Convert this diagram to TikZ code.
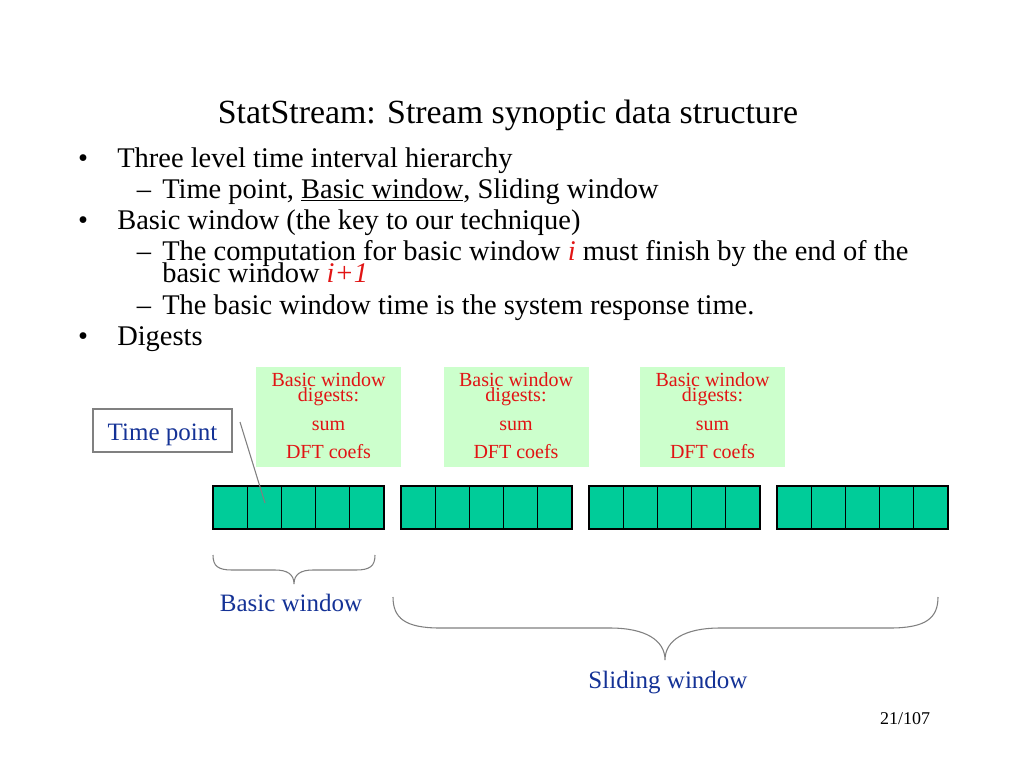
\documentclass[tikz,border=0pt]{standalone}
\usepackage{fontspec}
\setmainfont{Liberation Serif}
\definecolor{cellgreen}{RGB}{0,204,153}
\definecolor{digbg}{RGB}{204,255,204}
\definecolor{digred}{RGB}{225,20,20}
\definecolor{lblblue}{RGB}{20,50,150}
\begin{document}
\begin{tikzpicture}[x=0.75pt,y=-0.75pt,
      body/.style={font=\fontsize{21.35}{24}\selectfont,inner sep=0pt,anchor=base west},
      mark bullet/.style={font=\fontsize{21.35}{24}\selectfont,inner sep=0pt,anchor=base},
      cell/.style={draw=black,fill=cellgreen,line width=0.8pt,minimum width=25.65pt,minimum height=32.25pt,inner sep=0pt},
      digbox/.style={fill=digbg,minimum width=108.75pt,minimum height=75pt,inner sep=0pt},
      digtext/.style={font=\fontsize{15}{11.25}\selectfont,text=digred,inner sep=0pt,align=center},
      label/.style={font=\fontsize{18.75}{22}\selectfont,text=lblblue,inner sep=0pt,anchor=base}]
      \useasboundingbox[fill=white] (0,0) rectangle (1024,768);
      % title
      \path (508,123) node[font=\fontsize{25.4}{30}\selectfont,inner sep=0pt,anchor=base] (title)
        {StatStream: Stream synoptic data structure};
      % bullets
      \path (83,167) node[mark bullet] (b1) {•};
      \path (117,167) node[body] (l1) {Three level time interval hierarchy};
      \path (144,198) node[mark bullet] (d1) {–};
      \path (162,198) node[body] (l2) {Time point, \underline{Basic window}, Sliding window};
      \path (83,229) node[mark bullet] (b2) {•};
      \path (117,229) node[body] (l3) {Basic window (the key to our technique)};
      \path (144,260) node[mark bullet] (d2) {–};
      \path (162,260) node[body] (l4) {The computation for basic window \textcolor{digred}{\textit{i}} must finish by the end of the};
      \path (162,282) node[body] (l5) {basic window \textcolor{digred}{\textit{i+1}}};
      \path (144,314) node[mark bullet] (d3) {–};
      \path (162,314) node[body] (l6) {The basic window time is the system response time.};
      \path (83,345) node[mark bullet] (b3) {•};
      \path (117,345) node[body] (l7) {Digests};
      % digest boxes
      \foreach \i/\x in {1/328.5,2/516,3/712.5} {
        \path (\x,417) node[digbox] (dig\i) {};
        \path (\x,372) node[digtext,anchor=north] (dig\i a) {Basic window\\digests:};
        \path (\x,430) node[digtext,anchor=base] (dig\i c) {sum};
        \path (\x,458) node[digtext,anchor=base] (dig\i d) {DFT coefs};
      }
      % time points
      \foreach \g/\x in {1/213,2/401,3/589,4/777} {
        \foreach \c in {0,...,4} {
          \path (\x+\c*34.2+17.1,507.5) node[cell] (cell\g\c) {};
        }
      }
      % time point label
      \path (162.5,430.5) node[draw=gray,line width=0.9pt,fill=white,minimum width=104.25pt,minimum height=32.25pt,inner sep=0pt] (tp) {};
      \path (162.5,440) node[label] (tptext) {Time point};
      \coordinate (ptrstart) at (240,422);
      \coordinate (ptrend) at (265,503);
      \draw[gray,line width=0.8pt] (ptrstart) -- (ptrend);
      % braces
      \draw[gray,line width=0.8pt] (213,555) .. controls (213,566) and (218,570) .. (232,570) -- (275,570)
        .. controls (287,570) and (294,574) .. (294,584)
        .. controls (294,574) and (301,570) .. (313,570) -- (356,570)
        .. controls (370,570) and (375,566) .. (375,555);
      \path (291,611) node[label] (bwlabel) {Basic window};
      \draw[gray,line width=0.8pt] (393,597) .. controls (393,618) and (405,628) .. (440,628) -- (610,628)
        .. controls (645,628) and (665,640) .. (665,660)
        .. controls (665,640) and (685,628) .. (720,628) -- (890,628)
        .. controls (926,628) and (938,618) .. (938,597);
      \path (668,688) node[label] (swlabel) {Sliding window};
      % page number
      \path (905,724) node[font=\fontsize{13.5}{16}\selectfont,inner sep=0pt,anchor=base] (page) {21/107};
     \end{tikzpicture}
\end{document}
